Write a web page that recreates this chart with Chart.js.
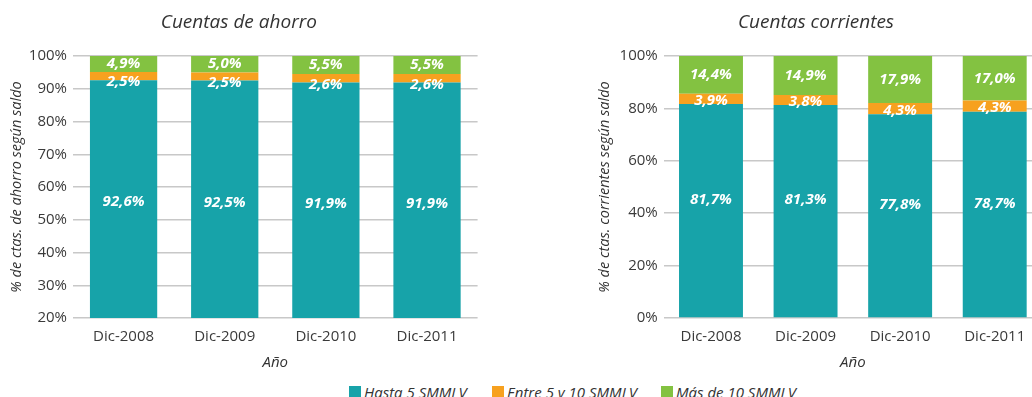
<!DOCTYPE html>
<html lang="es">
<head>
<meta charset="UTF-8">
<title>Cuentas de ahorro y corrientes según saldo</title>
<style>
body {
    margin: 0;
    width: 1032px;
    height: 397px;
    overflow: hidden;
    position: relative;
    background: #fff;
    font-family: 'Open Sans', sans-serif;
}
.box { position: absolute; top: 0; height: 375px; }
#ahorro-box { left: 0; width: 560px; }
#corrientes-box { left: 590px; width: 526px; }
.item {
    position: absolute;
    top: 382px;
    display: flex;
    align-items: center;
    font-style: italic;
    font-size: 15px;
    color: #333;
    white-space: nowrap;
}
.swatch { width: 12px; height: 12px; margin-right: 3px; }
</style>
</head>
<body>
<div class="box" id="ahorro-box"><canvas id="ahorroChart"></canvas></div>
<div class="box" id="corrientes-box"><canvas id="corrientesChart"></canvas></div>

<div class="item" style="left:349px"><span class="swatch" style="background:#17a3a9"></span>Hasta 5 SMMLV</div>
<div class="item" style="left:492px"><span class="swatch" style="background:#f7a11f"></span>Entre 5 y 10 SMMLV</div>
<div class="item" style="left:661px"><span class="swatch" style="background:#83c241"></span>Más de 10 SMMLV</div>

<script src="https://cdn.jsdelivr.net/npm/chart.js"></script>
<script>
// Periodos
const years = ['Dic-2008', 'Dic-2009', 'Dic-2010', 'Dic-2011'];

// Cuentas de ahorro (%)
const ahorroHasta5 = [92.6, 92.5, 91.9, 91.9];
const ahorroEntre5y10 = [2.5, 2.5, 2.6, 2.6];
const ahorroMas10 = [4.9, 5.0, 5.5, 5.5];

// Cuentas corrientes (%)
const corrHasta5 = [81.7, 81.3, 77.8, 78.7];
const corrEntre5y10 = [3.9, 3.8, 4.3, 4.3];
const corrMas10 = [14.4, 14.9, 17.9, 17.0];

const seriesNames = ['Hasta 5 SMMLV', 'Entre 5 y 10 SMMLV', 'Más de 10 SMMLV'];
const seriesColors = ['#17a3a9', '#f7a11f', '#83c241'];

const FONT = "'Open Sans', sans-serif";
const fmt = v => v.toFixed(1).replace('.', ',') + '%';

// white value labels centred on each stacked segment
const segmentLabels = {
    id: 'segmentLabels',
    afterDatasetsDraw(chart, args, opts) {
        const ctx = chart.ctx;
        const area = chart.chartArea;
        ctx.save();
        ctx.font = 'italic bold 15px ' + FONT;
        ctx.fillStyle = '#fff';
        ctx.textAlign = 'center';
        ctx.textBaseline = 'middle';
        chart.data.datasets.forEach((ds, i) => {
            chart.getDatasetMeta(i).data.forEach((bar, j) => {
                const top = Math.max(bar.y, area.top);
                const bottom = Math.min(bar.base, area.bottom);
                ctx.fillText(fmt(ds.data[j]), bar.x, (top + bottom) / 2 + opts.shift[i]);
            });
        });
        ctx.restore();
    }
};

function makeChart(id, cfg) {
    const datasets = cfg.series.map((data, i) => ({
        label: seriesNames[i],
        data: data,
        backgroundColor: seriesColors[i],
        borderWidth: 0,
        barPercentage: 1,
        categoryPercentage: cfg.catPct
    }));
    return new Chart(document.getElementById(id), {
        type: 'bar',
        data: { labels: years, datasets: datasets },
        plugins: [segmentLabels],
        options: {
            responsive: true,
            maintainAspectRatio: false,
            animation: false,
            layout: { padding: { left: 0, right: cfg.padRight, top: 0, bottom: 0 } },
            plugins: {
                legend: { display: false },
                tooltip: { enabled: false },
                title: {
                    display: true,
                    text: cfg.title,
                    color: '#333',
                    font: { family: FONT, size: 19, style: 'italic', weight: 'normal' },
                    padding: { top: 11, bottom: 22.2 }
                },
                segmentLabels: { shift: cfg.shift }
            },
            scales: {
                x: {
                    stacked: true,
                    grid: { display: false },
                    border: { display: false },
                    ticks: { color: '#3a3a3a', padding: 2, font: { family: FONT, size: 15 } },
                    title: {
                        display: true,
                        text: 'Año',
                        color: '#333',
                        font: { family: FONT, size: 15, style: 'italic' },
                        padding: { top: 0, bottom: 3 }
                    },
                    afterFit: s => { s.height = 57; }
                },
                y: {
                    stacked: true,
                    min: cfg.min,
                    max: 100,
                    ticks: {
                        stepSize: cfg.step,
                        color: '#3a3a3a',
                        padding: 6,
                        font: { family: FONT, size: 15 },
                        callback: v => v + '%'
                    },
                    grid: { color: '#c8c8c8', lineWidth: 1.5, drawTicks: false },
                    border: { display: false },
                    title: {
                        display: true,
                        text: cfg.yTitle,
                        color: '#333',
                        font: { family: FONT, size: 14.5, style: 'italic' },
                        padding: { top: cfg.yTitlePad, bottom: 0 }
                    },
                    afterFit: s => { s.width = cfg.yWidth; }
                }
            }
        }
    });
}

makeChart('ahorroChart', {
    title: 'Cuentas de ahorro',
    yTitle: '% de ctas. de ahorro según saldo',
    series: [ahorroHasta5, ahorroEntre5y10, ahorroMas10],
    min: 20, step: 10,
    catPct: 0.665,
    yWidth: 73, yTitlePad: 8.3, padRight: 82.4,
    shift: [3, 6, 0]
});

makeChart('corrientesChart', {
    title: 'Cuentas corrientes',
    yTitle: '% de ctas. corrientes según saldo',
    series: [corrHasta5, corrEntre5y10, corrMas10],
    min: 0, step: 20,
    catPct: 0.676,
    yWidth: 73.7, yTitlePad: 6.3, padRight: 74,
    shift: [-11, 2, 0]
});
</script>
</body>
</html>
